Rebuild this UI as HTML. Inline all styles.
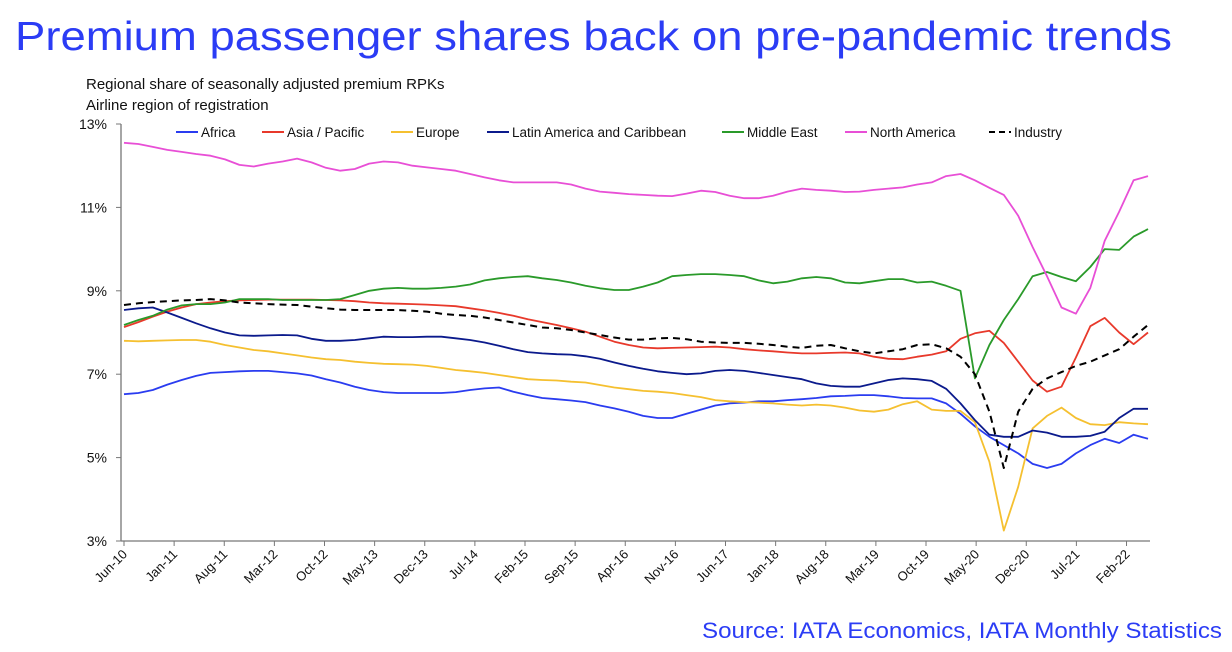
<!DOCTYPE html>
<html><head><meta charset="utf-8"><style>
html,body{margin:0;padding:0;background:#fff;width:1232px;height:652px;overflow:hidden}
svg{display:block;font-family:"Liberation Sans",Arial,sans-serif}
</style></head><body>
<svg id="chart" width="1232" height="652" viewBox="0 0 1232 652" xmlns="http://www.w3.org/2000/svg">
<text x="15" y="50" font-size="41" fill="#2b3cf5" textLength="1157" lengthAdjust="spacingAndGlyphs">Premium passenger shares back on pre-pandemic trends</text>
<text x="86" y="89" font-size="15" fill="#111">Regional share of seasonally adjusted premium RPKs</text>
<text x="86" y="110" font-size="15" fill="#111">Airline region of registration</text>
<text x="702" y="638" font-size="22" fill="#2b3cf5" textLength="520" lengthAdjust="spacingAndGlyphs">Source: IATA Economics, IATA Monthly Statistics</text>
<g id="axes"></g>
<g id="series"></g>
<g id="legend"></g>
</svg>
<script>
const tickLabels = ["Jun-10","Jan-11","Aug-11","Mar-12","Oct-12","May-13","Dec-13","Jul-14","Feb-15","Sep-15","Apr-16","Nov-16","Jun-17","Jan-18","Aug-18","Mar-19","Oct-19","May-20","Dec-20","Jul-21","Feb-22"];
const yTicks = [3,5,7,9,11,13];
const seriesNames = ["Africa","Asia / Pacific","Europe","Latin America and Caribbean","Middle East","North America","Industry"];
const africa = [6.52,6.55,6.62,6.75,6.86,6.96,7.03,7.05,7.07,7.08,7.08,7.05,7.02,6.97,6.88,6.8,6.7,6.62,6.57,6.55,6.55,6.55,6.55,6.57,6.62,6.66,6.68,6.58,6.5,6.43,6.4,6.37,6.33,6.25,6.18,6.1,6.0,5.95,5.95,6.05,6.15,6.25,6.3,6.32,6.35,6.35,6.38,6.4,6.43,6.47,6.48,6.5,6.5,6.47,6.43,6.42,6.42,6.3,6.05,5.75,5.5,5.3,5.1,4.85,4.75,4.85,5.1,5.3,5.45,5.35,5.55,5.45];
const asiaPacific = [8.13,8.25,8.38,8.5,8.6,8.68,8.72,8.75,8.77,8.78,8.79,8.79,8.79,8.79,8.78,8.77,8.75,8.72,8.7,8.69,8.68,8.67,8.65,8.63,8.58,8.53,8.47,8.4,8.32,8.25,8.18,8.1,8.02,7.9,7.78,7.7,7.64,7.62,7.63,7.64,7.65,7.66,7.64,7.6,7.57,7.55,7.52,7.5,7.5,7.51,7.52,7.5,7.42,7.37,7.36,7.42,7.47,7.55,7.85,7.98,8.04,7.75,7.3,6.85,6.58,6.7,7.4,8.15,8.35,8.0,7.72,8.0];
const europe = [7.8,7.79,7.8,7.81,7.82,7.82,7.78,7.7,7.64,7.58,7.55,7.5,7.45,7.4,7.36,7.34,7.3,7.27,7.25,7.24,7.23,7.2,7.15,7.1,7.07,7.03,6.98,6.93,6.88,6.86,6.85,6.82,6.8,6.74,6.68,6.64,6.6,6.58,6.55,6.5,6.45,6.38,6.35,6.33,6.32,6.3,6.27,6.25,6.27,6.25,6.2,6.13,6.1,6.15,6.28,6.35,6.15,6.12,6.12,5.85,4.9,3.25,4.3,5.7,6.0,6.2,5.95,5.8,5.78,5.85,5.82,5.8];
const latinAmerica = [8.54,8.58,8.6,8.48,8.35,8.22,8.1,8.0,7.93,7.92,7.93,7.94,7.93,7.85,7.8,7.8,7.82,7.86,7.9,7.89,7.89,7.9,7.9,7.86,7.82,7.76,7.68,7.6,7.53,7.5,7.48,7.47,7.43,7.37,7.28,7.2,7.13,7.07,7.03,7.0,7.02,7.08,7.1,7.08,7.03,6.98,6.93,6.88,6.78,6.72,6.7,6.7,6.78,6.86,6.9,6.88,6.84,6.65,6.3,5.9,5.55,5.5,5.5,5.65,5.6,5.5,5.5,5.52,5.62,5.95,6.17,6.17];
const middleEast = [8.18,8.3,8.4,8.55,8.65,8.68,8.68,8.72,8.8,8.8,8.8,8.78,8.78,8.78,8.78,8.8,8.9,9.0,9.05,9.07,9.05,9.05,9.07,9.1,9.15,9.25,9.3,9.33,9.35,9.3,9.26,9.2,9.12,9.06,9.02,9.02,9.1,9.2,9.35,9.38,9.4,9.4,9.38,9.35,9.25,9.18,9.22,9.3,9.33,9.3,9.2,9.18,9.23,9.28,9.28,9.2,9.22,9.12,9.0,6.9,7.7,8.3,8.8,9.35,9.45,9.33,9.23,9.57,10.0,9.98,10.3,10.48];
const northAmerica = [12.55,12.52,12.45,12.38,12.33,12.28,12.24,12.15,12.02,11.98,12.05,12.1,12.17,12.08,11.95,11.88,11.92,12.05,12.1,12.08,12.0,11.96,11.92,11.88,11.8,11.72,11.65,11.6,11.6,11.6,11.6,11.55,11.45,11.38,11.35,11.32,11.3,11.28,11.27,11.33,11.4,11.37,11.28,11.22,11.22,11.28,11.38,11.45,11.42,11.4,11.37,11.38,11.42,11.45,11.48,11.55,11.6,11.75,11.8,11.65,11.47,11.3,10.8,10.05,9.35,8.6,8.45,9.07,10.2,10.9,11.65,11.75];
const industry = [8.66,8.7,8.73,8.75,8.77,8.78,8.8,8.77,8.72,8.7,8.68,8.67,8.66,8.62,8.58,8.55,8.54,8.54,8.54,8.54,8.52,8.5,8.45,8.42,8.4,8.36,8.3,8.24,8.18,8.12,8.1,8.06,8.0,7.94,7.88,7.83,7.83,7.86,7.87,7.84,7.78,7.76,7.75,7.75,7.73,7.7,7.66,7.63,7.68,7.7,7.62,7.55,7.5,7.55,7.6,7.7,7.72,7.62,7.42,7.0,6.1,4.75,6.1,6.65,6.9,7.05,7.2,7.3,7.45,7.6,7.9,8.18];

const NS="http://www.w3.org/2000/svg";
const X0=124, X1=1148, YTOP=124, YBOT=541, VMIN=3, VMAX=13;
const TOTAL_MONTHS=143;
const xMonth = m => X0 + m*(X1-X0)/TOTAL_MONTHS;
const xIdx = i => X0 + i*(X1-X0)/(africa.length-1);
const y = v => YBOT - (v-VMIN)*(YBOT-YTOP)/(VMAX-VMIN);
function mk(tag, attrs, parent){const e=document.createElementNS(NS,tag);for(const k in attrs)e.setAttribute(k,attrs[k]);parent.appendChild(e);return e;}
const axes=document.getElementById('axes');
const yAxis = mk('line',{x1:121,y1:YTOP,x2:121,y2:YBOT,stroke:'#777','stroke-width':1.3},axes);


const xAxis = mk('line',{x1:121,y1:YBOT,x2:1150,y2:YBOT,stroke:'#777','stroke-width':1.3},axes);


yTicks.forEach(v=>{
  const t=mk('line',{x1:116,y1:y(v),x2:121,y2:y(v),stroke:'#777'},axes);
  
  
  const l=mk('text',{x:107,y:y(v)+5,'font-size':14,'text-anchor':'end',fill:'#111'},axes);
  l.textContent=v+'%';
  
  
});
tickLabels.forEach((lab,k)=>{
  const x=xMonth(k*7);
  const t=mk('line',{x1:x,y1:YBOT,x2:x,y2:YBOT+5,stroke:'#777'},axes);
  
  
  const l=mk('text',{x:x+4,y:YBOT+14,'font-size':13,'text-anchor':'end',fill:'#111',transform:`rotate(-45 ${x+4} ${YBOT+14})`},axes);
  l.textContent=lab;
  
  
});
const colors=['#2a3cf0','#e8392b','#f5c030','#0b1a8c','#2a9a2a','#e84fd6','#000'];
const data=[africa,asiaPacific,europe,latinAmerica,middleEast,northAmerica,industry];
const sg=document.getElementById('series');
data.forEach((arr,s)=>{
  const d=arr.map((v,i)=>(i?'L':'M')+xIdx(i).toFixed(1)+' '+y(v).toFixed(1)).join(' ');
  const attrs={d:d,fill:'none',stroke:colors[s],'stroke-width':1.8,'stroke-linejoin':'round'};
  if(s===6){attrs['stroke-dasharray']='7 5';attrs['stroke-width']=2;}
  const p=mk('path',attrs,sg);
  
  
});
const legX=[176,262,391,487,722,845,989];
const lg=document.getElementById('legend');
seriesNames.forEach((n,s)=>{
  const g=mk('g',{},lg);
  
  
  const la={x1:legX[s],y1:132,x2:legX[s]+22,y2:132,stroke:colors[s],'stroke-width':2};
  if(s===6){la['stroke-dasharray']='6 4';}
  mk('line',la,g);
  const t=mk('text',{x:legX[s]+25,y:137,'font-size':13.5,fill:'#111'},g);
  t.textContent=n;
});
</script>
</body></html>
